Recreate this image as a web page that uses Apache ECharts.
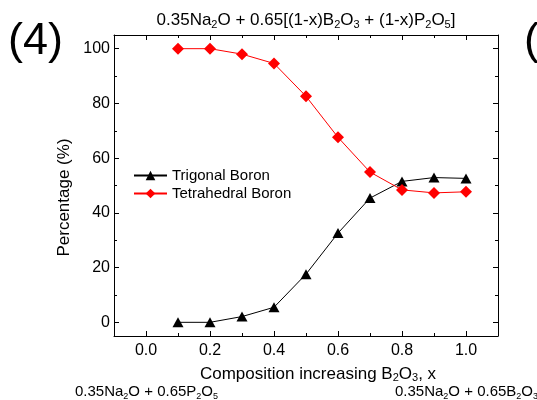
<!DOCTYPE html>
<html><head><meta charset="utf-8">
<script src="https://cdn.jsdelivr.net/npm/echarts@6/dist/echarts.min.js"></script>
<style>html,body{margin:0;padding:0;background:#fff}#c{width:537px;height:400px}</style>
</head><body><div id="c"></div>
<script>
const xValues = [0.1, 0.2, 0.3, 0.4, 0.5, 0.6, 0.7, 0.8, 0.9, 1.0];
const trigonal = [0, 0, 2.1, 5.5, 17.6, 32.6, 45.4, 51.5, 52.9, 52.6];
const tetrahedral = [100, 100, 98.0, 94.6, 82.6, 67.6, 54.9, 48.4, 47.3, 47.7];
const xMajorTicks = [0, 0.2, 0.4, 0.6, 0.8, 1.0];
const xMinorTicks = [0.1, 0.3, 0.5, 0.7, 0.9];
const yMajorTicks = [0, 20, 40, 60, 80, 100];
const yMinorTicks = [10, 30, 50, 70, 90];
const seriesNames = ['Trigonal Boron', 'Tetrahedral Boron'];

const FF = 'Liberation Sans, Arial, sans-serif';
const sub = (fs, lh) => ({ fontSize: fs, lineHeight: lh, verticalAlign: 'bottom', color: '#000', fill: '#000', fontFamily: FF });

function xAx(position, ticks, len, showLine, showLabel) {
  return {
    type: 'value', position: position, min: -0.1, max: 1.1,
    axisLine: { show: showLine, onZero: false, lineStyle: { color: '#000', width: 1 } },
    axisTick: { show: true, inside: true, length: len, customValues: ticks, lineStyle: { color: '#000', width: 1 } },
    axisLabel: { show: showLabel, customValues: ticks, margin: 7, fontSize: 16, color: '#000', fontFamily: FF,
      formatter: v => v.toFixed(1) },
    splitLine: { show: false }
  };
}
function yAx(position, ticks, len, showLine, showLabel) {
  return {
    type: 'value', position: position, min: -5, max: 105,
    axisLine: { show: showLine, onZero: false, lineStyle: { color: '#000', width: 1 } },
    axisTick: { show: true, inside: true, length: len, customValues: ticks, lineStyle: { color: '#000', width: 1 } },
    axisLabel: { show: showLabel, customValues: ticks, margin: 4, fontSize: 16, color: '#000', fontFamily: FF },
    splitLine: { show: false }
  };
}

const xMain = xAx('bottom', xMajorTicks, 5, true, true);
xMain.name = 'Composition increasing B{s|2}O{s|3}, x';
xMain.nameLocation = 'middle';
xMain.nameGap = 24;
xMain.nameTextStyle = { fontSize: 17, color: '#000', fontFamily: FF, lineHeight: 20, padding: [0, 0, 0, 24], rich: { s: sub(11, 10) } };

const yMain = yAx('left', yMajorTicks, 5, true, true);
yMain.name = 'Percentage (%)';
yMain.nameLocation = 'middle';
yMain.nameGap = 39;
yMain.nameTextStyle = { fontSize: 17, color: '#000', fontFamily: FF, padding: [0, 24, 0, 0] };

const chart = echarts.init(document.getElementById('c'));
chart.setOption({
  animation: false,
  backgroundColor: '#fff',
  title: {
    text: '0.35Na{s|2}O + 0.65[(1-x)B{s|2}O{s|3} + (1-x)P{s|2}O{s|5}]',
    left: 306, top: 10, textAlign: 'center', padding: 0,
    textStyle: { fontSize: 17, fontWeight: 'normal', color: '#000', fontFamily: FF, lineHeight: 20, rich: { s: sub(11, 10) } }
  },
  grid: { left: 114, right: 39, top: 35, bottom: 64, containLabel: false },
  legend: {
    orient: 'vertical', left: 133, top: 168, padding: 0, itemWidth: 33, itemHeight: 12, itemGap: 3,
    textStyle: { fontSize: 15, color: '#000', fontFamily: FF },
    data: seriesNames
  },
  xAxis: [
    xMain,
    xAx('bottom', xMinorTicks, 3, false, false),
    xAx('top', xMajorTicks, 5, true, false),
    xAx('top', xMinorTicks, 3, false, false)
  ],
  yAxis: [
    yMain,
    yAx('left', yMinorTicks, 3, false, false),
    yAx('right', yMajorTicks, 5, true, false),
    yAx('right', yMinorTicks, 3, false, false)
  ],
  series: [
    { name: seriesNames[0], type: 'line', xAxisIndex: 0, yAxisIndex: 0,
      data: xValues.map((x, i) => [x, trigonal[i]]),
      symbol: 'triangle', symbolSize: [11, 10],
      lineStyle: { color: '#000', width: 1 }, itemStyle: { color: '#000' } },
    { name: seriesNames[1], type: 'line', xAxisIndex: 0, yAxisIndex: 0,
      data: xValues.map((x, i) => [x, tetrahedral[i]]),
      symbol: 'diamond', symbolSize: 12,
      lineStyle: { color: '#ff0000', width: 1 }, itemStyle: { color: '#ff0000' } }
  ],
  graphic: [
    { type: 'text', x: 8, y: 42, style: { text: '(4)', font: '45px Liberation Sans', fill: '#000', verticalAlign: 'middle' } },
    { type: 'text', x: 524, y: 42, style: { text: '(', font: '45px Liberation Sans', fill: '#000', verticalAlign: 'middle' } },
    { type: 'text', x: 75, y: 392, style: { text: '0.35Na{s|2}O + 0.65P{s|2}O{s|5}', font: '15px Liberation Sans', fill: '#000', verticalAlign: 'middle', lineHeight: 18, rich: { s: sub(9, 9) } } },
    { type: 'text', x: 395, y: 392, style: { text: '0.35Na{s|2}O + 0.65B{s|2}O{s|3}', font: '15px Liberation Sans', fill: '#000', verticalAlign: 'middle', lineHeight: 18, rich: { s: sub(9, 9) } } }
  ]
});
</script></body></html>
